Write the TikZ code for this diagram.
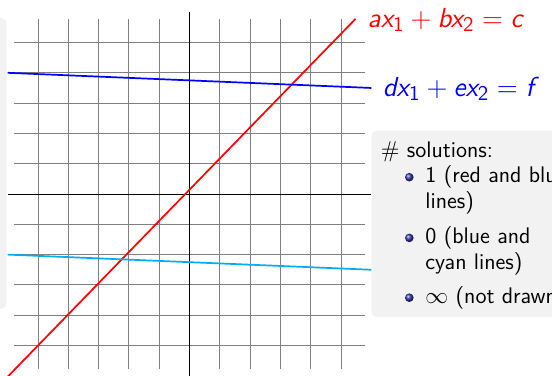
\documentclass[tikz,border=0pt]{standalone}
\usepackage{amsmath}
\DeclareMathAlphabet{\mathsfsl}{OT1}{cmss}{m}{sl}
\definecolor{boxgray}{HTML}{F2F2F2}
\definecolor{mycyan}{HTML}{00AEEF}
\definecolor{ballblue}{rgb}{0.2,0.2,0.7}
\tikzset{
  gridline/.style={draw=black!50, line width=0.5pt},
  axisline/.style={draw=black, line width=0.5pt},
  plotline/.style={line width=0.9pt},
  blockbox/.style={fill=boxgray, rounded corners=3.2pt},
  bodytext/.style={anchor=base west, inner sep=0pt, font=\sffamily\fontsize{11.8}{14}\selectfont},
  eqlabel/.style={anchor=base west, inner sep=0pt, font=\fontsize{15.6}{19}\selectfont},
  itemball/.style={ball color=ballblue}
}
\begin{document}
\begin{tikzpicture}[x=0.5236pt,y=-0.5236pt]
\useasboundingbox (0,0) rectangle (552,375);
\clip (0,0) rectangle (552,375);
% block boxes
\path[blockbox] (-20,18) rectangle (6.7,309);
\path[blockbox] (371.5,130.7) rectangle (620,317);
% graph
\begin{scope}[shift={(189.5,194)}, x=15.865pt, y=15.865pt]
  \foreach \i in {-5,...,5} {
    \draw[gridline] (\i,-5.78) -- (\i,5.78);
    \draw[gridline] (-5.78,\i) -- (5.78,\i);
  }
  \coordinate (xl) at (-6,0);
  \coordinate (xr) at (6,0);
  \coordinate (yb) at (0,-6.4);
  \coordinate (yt) at (0,6);
  \draw[axisline] (xl) -- (xr);
  \draw[axisline] (yb) -- (yt);
  \coordinate (r0) at (-6.4,-6.44);
  \coordinate (r1) at (5.48,5.78);
  \coordinate (b0) at (-6,4);
  \coordinate (b1) at (6,3.5);
  \coordinate (c0) at (-6,-2);
  \coordinate (c1) at (6,-2.5);
  \draw[plotline, red] (r0) -- (r1);
  \draw[plotline, blue] (b0) -- (b1);
  \draw[plotline, mycyan] (c0) -- (c1);
\end{scope}
% equation labels
\node[eqlabel, red] (redlab) at (367.5,27)
  {$\mathsfsl{a}\mathsfsl{x}_{\mathsf{1}} + \mathsfsl{b}\mathsfsl{x}_{\mathsf{2}} = \mathsfsl{c}$};
\node[eqlabel, blue] (bluelab) at (382.5,96)
  {$\mathsfsl{d}\mathsfsl{x}_{\mathsf{1}} + \mathsfsl{e}\mathsfsl{x}_{\mathsf{2}} = \mathsfsl{f}$};
% solutions block
\node[bodytext] (head) at (380.5,157) {$\#$ solutions:};
\shade[itemball] (409.3,177.2) circle (4.3);
\node[bodytext] (i1a) at (425,182.7) {1 (red and blue};
\node[bodytext] (i1b) at (425,208.3) {lines)};
\shade[itemball] (409.3,237.9) circle (4.3);
\node[bodytext] (i2a) at (425,243.5) {0 (blue and};
\node[bodytext] (i2b) at (425,269.1) {cyan lines)};
\shade[itemball] (409.3,297.7) circle (4.3);
\node[bodytext] (i3) at (425,303.3) {$\infty$ (not drawn)};
\end{tikzpicture}
\end{document}
